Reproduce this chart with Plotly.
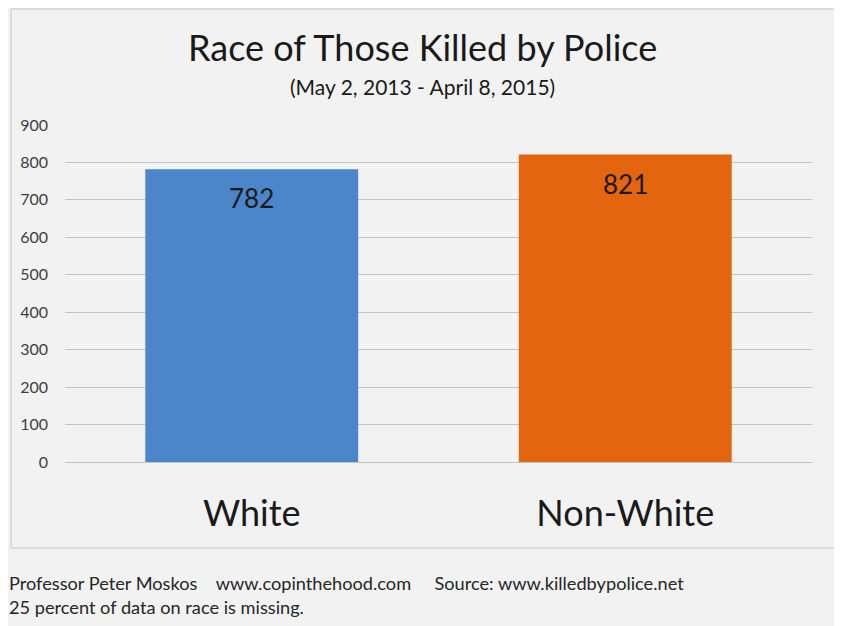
import plotly.graph_objects as go

categories = ["White", "Non-White"]
killed = [782, 821]
bar_colors = ["#4a86c9", "#e3650f"]
y_ticks = [0, 100, 200, 300, 400, 500, 600, 700, 800, 900]

FONT = "Lato, Open Sans, sans-serif"

fig = go.Figure(
    go.Bar(
        x=categories,
        y=killed,
        marker=dict(color=bar_colors, line=dict(width=0)),
        width=0.57,
        hoverinfo="x+y",
    )
)

# value labels sit a bit below each bar top
for cat, val in zip(categories, killed):
    fig.add_annotation(
        x=cat, y=val, text=str(val), showarrow=False,
        yanchor="top", yshift=-11,
        font=dict(family=FONT, size=26, color="#1a1a1a"),
    )

# outer chart frame
fig.add_shape(
    type="rect", xref="paper", yref="paper",
    x0=-0.0721, x1=1.0307, y0=-0.2552, y1=1.344,
    line=dict(color="#d4d4d4", width=1.5), layer="below",
)

fig.add_annotation(
    text="Race of Those Killed by Police",
    xref="paper", yref="paper", x=0.478, y=1.2315, yanchor="middle", showarrow=False,
    font=dict(family=FONT, size=36, color="#1a1a1a"),
)
fig.add_annotation(
    text="(May 2, 2013 - April 8, 2015)",
    xref="paper", yref="paper", x=0.478, y=1.1157, yanchor="middle", showarrow=False,
    font=dict(family=FONT, size=21, color="#1a1a1a"),
)
fig.add_annotation(
    text="Professor Peter Moskos&nbsp;&nbsp;&nbsp;&nbsp;www.copinthehood.com&nbsp;&nbsp;&nbsp;&nbsp;&nbsp;Source: www.killedbypolice.net"
         "<br>25 percent of data on race is missing.",
    xref="paper", yref="paper", x=-0.078, y=-0.319, showarrow=False,
    xanchor="left", yanchor="top", align="left",
    font=dict(family=FONT, size=18.2, color="#262626"),
)

fig.update_layout(
    width=842, height=626,
    margin=dict(l=55, r=38, t=117, b=172),
    paper_bgcolor="#f2f2f2",
    plot_bgcolor="#f2f2f2",
    showlegend=False,
    xaxis=dict(
        showgrid=False, showline=False, zeroline=False, ticks="",
        ticklabelstandoff=27,
        tickfont=dict(family=FONT, size=36, color="#1a1a1a"),
    ),
    yaxis=dict(
        range=[0, 900], tickvals=y_ticks,
        showgrid=True, gridcolor="#c4c4c4", gridwidth=1.3,
        zeroline=True, zerolinecolor="#c4c4c4", zerolinewidth=1.3,
        showline=False, ticks="", ticklabelstandoff=16,
        tickfont=dict(family=FONT, size=16, color="#404040"),
    ),
)

fig.write_html("out.html")
